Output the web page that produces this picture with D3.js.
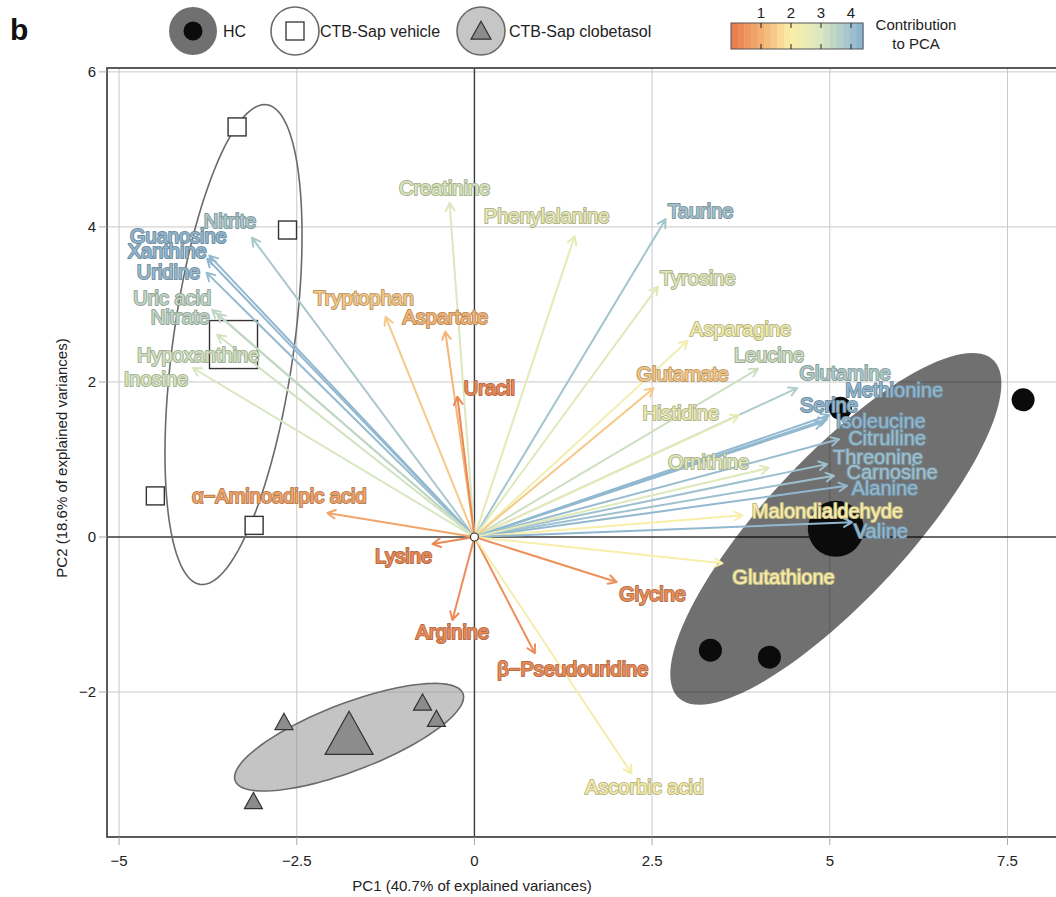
<!DOCTYPE html>
<html>
<head>
<meta charset="utf-8">
<script src="https://cdn.jsdelivr.net/npm/d3@7"></script>
<style>
  body { margin: 0; background: #fff; }
  svg { display: block; font-family: "Liberation Sans", Arial, Helvetica, sans-serif; }
</style>
</head>
<body>
<svg id="chart" width="1056" height="897"></svg>
<script>
// ---- Variable loadings (PC1, PC2) and contribution to PCA ----
const variables = [
  "Creatinine", "Phenylalanine", "Taurine", "Tyrosine", "Asparagine", "Leucine",
  "Glutamine", "Glutamate", "Histidine", "Methionine", "Serine", "Isoleucine",
  "Citrulline", "Threonine", "Carnosine", "Alanine", "Malondialdehyde", "Valine",
  "Ornithine", "Glutathione", "Nitrite", "Guanosine", "Xanthine", "Uridine",
  "Uric acid", "Nitrate", "Hypoxanthine", "Inosine", "Tryptophan", "Aspartate",
  "Uracil", "α−Aminoadipic acid", "Lysine", "Arginine", "Glycine",
  "β−Pseudouridine", "Ascorbic acid"
];
const loadingPC1 = [
  -0.35, 1.41, 2.69, 2.58, 3.00, 3.99,
  4.54, 2.52, 3.72, 4.99, 4.96, 4.90,
  5.13, 4.96, 5.06, 5.24, 3.77, 5.31,
  4.14, 3.49, -3.13, -3.73, -3.76, -3.77,
  -3.69, -3.62, -3.62, -3.96, -1.25, -0.41,
  -0.24, -2.07, -0.59, -0.31, 2.00,
  0.85, 2.21
];
const loadingPC2 = [
  4.31, 3.88, 4.10, 3.23, 2.53, 2.17,
  1.92, 1.92, 1.57, 1.57, 1.52, 1.48,
  1.26, 0.94, 0.79, 0.66, 0.28, 0.19,
  0.89, -0.34, 3.86, 3.63, 3.59, 3.41,
  2.93, 2.88, 2.61, 2.18, 2.84, 2.65,
  1.81, 0.31, -0.09, -1.07, -0.58,
  -1.50, -3.05
];
const contribution = [
  2.9, 2.6, 3.9, 2.8, 2.3, 3.2,
  3.7, 1.4, 2.5, 4.2, 4.2, 4.2,
  4.1, 4.0, 4.0, 4.2, 2.1, 4.2,
  2.8, 2.1, 3.8, 4.2, 4.2, 4.1,
  3.4, 3.4, 3.1, 3.0, 1.4, 1.1,
  0.3, 0.8, 0.3, 0.35, 0.45,
  0.4, 2.2
];

// ---- Individual scores per group ----
const hcPC1 = [5.15, 7.72, 3.32, 4.15];
const hcPC2 = [1.66, 1.77, -1.46, -1.55];
const vehiclePC1 = [-3.34, -2.63, -4.49, -3.10];
const vehiclePC2 = [5.29, 3.96, 0.53, 0.15];
const clobetasolPC1 = [-2.68, -3.11, -0.73, -0.535];
const clobetasolPC2 = [-2.40, -3.42, -2.15, -2.36];

// ---- Axis ticks ----
const xTicks = [-5, -2.5, 0, 2.5, 5, 7.5];
const yTicks = [-2, 0, 2, 4, 6];
const contribTicks = [1, 2, 3, 4];

// ---- Layout (label nudges in px from each arrow tip) ----
const labelNudge = {
  "Creatinine": [-5, -15], "Phenylalanine": [-28, -20], "Taurine": [35, -8],
  "Tyrosine": [40, -9], "Asparagine": [53, -12], "Leucine": [11, -14],
  "Glutamine": [48, -15], "Glutamate": [29, -14], "Histidine": [-58, -2],
  "Methionine": [65, -25], "Serine": [2, -14], "Isoleucine": [58, -1],
  "Citrulline": [48, -2], "Threonine": [51, -7], "Carnosine": [58, -4],
  "Alanine": [38, 2], "Malondialdehyde": [85, -4], "Valine": [29, 9],
  "Ornithine": [-60, -6], "Glutathione": [61, 13], "Nitrite": [-22, -17],
  "Guanosine": [-31, -20], "Xanthine": [-40, -8], "Uridine": [-38, -1],
  "Uric acid": [-40, -12], "Nitrate": [-37, 3], "Hypoxanthine": [-19, 20],
  "Inosine": [-37, 11], "Tryptophan": [-22, -19], "Aspartate": [0, -15],
  "Uracil": [32, -9], "α−Aminoadipic acid": [-48, -17], "Lysine": [-29, 12],
  "Arginine": [0, 12], "Glycine": [36, 12], "β−Pseudouridine": [38, 16],
  "Ascorbic acid": [13, 13]
};

const svg = d3.select("#chart");
const panel = { left: 107, top: 68, right: 1075, bottom: 837 };

const x = d3.scaleLinear().domain([-5.17, 8.45]).range([panel.left, panel.right]);
const y = d3.scaleLinear().domain([-3.87, 6.05]).range([panel.bottom, panel.top]);

// contribution colour scale
const color = d3.scaleLinear()
  .domain([0, 1, 2, 3, 4, 4.4])
  .range(["#e8784a", "#f3b072", "#fbefa8", "#d9e7c0", "#9ec0cf", "#86afd0"])
  .interpolate(d3.interpolateRgb);

// ---- Grid ----
const grid = svg.append("g");
grid.selectAll("line.gx").data(xTicks.filter(d => d !== 0)).join("line")
  .attr("x1", d => x(d)).attr("x2", d => x(d))
  .attr("y1", panel.top).attr("y2", panel.bottom)
  .attr("stroke", "#c9c9c9").attr("stroke-width", 1);
grid.selectAll("line.gy").data(yTicks.filter(d => d !== 0)).join("line")
  .attr("y1", d => y(d)).attr("y2", d => y(d))
  .attr("x1", panel.left).attr("x2", panel.right)
  .attr("stroke", "#c9c9c9").attr("stroke-width", 1);
// zero lines
grid.append("line").attr("x1", x(0)).attr("x2", x(0)).attr("y1", panel.top).attr("y2", panel.bottom)
  .attr("stroke", "#3a3a3a").attr("stroke-width", 1.4);
grid.append("line").attr("y1", y(0)).attr("y2", y(0)).attr("x1", panel.left).attr("x2", panel.right)
  .attr("stroke", "#3a3a3a").attr("stroke-width", 1.4);

// ---- Group ellipses from covariance of the scores ----
const ellipseRadius = 1.22;
function ellipsePoints(xs, ys) {
  const mx = d3.mean(xs), my = d3.mean(ys), n = xs.length;
  let sxx = 0, syy = 0, sxy = 0;
  for (let i = 0; i < n; i++) {
    const dx = xs[i] - mx, dy = ys[i] - my;
    sxx += dx * dx; syy += dy * dy; sxy += dx * dy;
  }
  sxx /= n - 1; syy /= n - 1; sxy /= n - 1;
  const tr = (sxx + syy) / 2;
  const disc = Math.sqrt(((sxx - syy) / 2) ** 2 + sxy * sxy);
  const l1 = tr + disc, l2 = Math.max(tr - disc, 0);
  const ang = 0.5 * Math.atan2(2 * sxy, sxx - syy);
  const a = ellipseRadius * Math.sqrt(l1), b = ellipseRadius * Math.sqrt(l2);
  const ux = Math.cos(ang), uy = Math.sin(ang);
  return d3.range(0, 121).map(i => {
    const t = (i / 120) * 2 * Math.PI;
    const px = mx + a * Math.cos(t) * ux - b * Math.sin(t) * uy;
    const py = my + a * Math.cos(t) * uy + b * Math.sin(t) * ux;
    return [x(px), y(py)];
  });
}
const ellLine = d3.line().curve(d3.curveLinearClosed);
const ell = svg.append("g");
ell.append("path").attr("d", ellLine(ellipsePoints(hcPC1, hcPC2)))
  .attr("fill", "#000").attr("fill-opacity", 0.56).attr("stroke", "none");
ell.append("path").attr("d", ellLine(ellipsePoints(vehiclePC1, vehiclePC2)))
  .attr("fill", "none").attr("stroke", "#6a6a6a").attr("stroke-width", 1.6);
ell.append("path").attr("d", ellLine(ellipsePoints(clobetasolPC1, clobetasolPC2)))
  .attr("fill", "#8a8a8a").attr("fill-opacity", 0.5).attr("stroke", "#6a6a6a").attr("stroke-width", 1.6);

// ---- Individuals and group means ----
const pts = svg.append("g");
function tri(cx, cy, w) {
  const h = w * 0.9;
  return `M${cx},${cy - h * 0.6}L${cx + w / 2},${cy + h * 0.4}L${cx - w / 2},${cy + h * 0.4}Z`;
}
const hcIdx = d3.range(hcPC1.length);
pts.selectAll("circle.hc").data(hcIdx).join("circle")
  .attr("cx", i => x(hcPC1[i])).attr("cy", i => y(hcPC2[i])).attr("r", 11.5).attr("fill", "#0b0b0b");
pts.append("circle").attr("cx", x(d3.mean(hcPC1))).attr("cy", y(d3.mean(hcPC2))).attr("r", 28).attr("fill", "#0b0b0b");

const vehIdx = d3.range(vehiclePC1.length);
pts.selectAll("rect.veh").data(vehIdx).join("rect")
  .attr("x", i => x(vehiclePC1[i]) - 9).attr("y", i => y(vehiclePC2[i]) - 9)
  .attr("width", 18).attr("height", 18).attr("fill", "#fff").attr("stroke", "#333").attr("stroke-width", 1.4);
pts.append("rect").attr("x", x(d3.mean(vehiclePC1)) - 24).attr("y", y(d3.mean(vehiclePC2)) - 24)
  .attr("width", 48).attr("height", 48).attr("fill", "none").attr("stroke", "#333").attr("stroke-width", 1.4);

const clobIdx = d3.range(clobetasolPC1.length);
pts.selectAll("path.clob").data(clobIdx).join("path")
  .attr("d", i => tri(x(clobetasolPC1[i]), y(clobetasolPC2[i]), 18))
  .attr("fill", "#8c8c8c").attr("stroke", "#333").attr("stroke-width", 1.2);
pts.append("path").attr("d", tri(x(d3.mean(clobetasolPC1)), y(d3.mean(clobetasolPC2)), 48))
  .attr("fill", "#8c8c8c").attr("stroke", "#333").attr("stroke-width", 1.2);

// ---- Loading arrows ----
const arrows = svg.append("g").attr("fill", "none").attr("stroke-linecap", "round");
const x0 = x(0), y0 = y(0);
variables.forEach((name, i) => {
  const tx = x(loadingPC1[i]), ty = y(loadingPC2[i]);
  const c = color(contribution[i]);
  const ang = Math.atan2(ty - y0, tx - x0);
  const len = 9, spread = 0.5;
  const h1 = [tx - len * Math.cos(ang - spread), ty - len * Math.sin(ang - spread)];
  const h2 = [tx - len * Math.cos(ang + spread), ty - len * Math.sin(ang + spread)];
  arrows.append("path")
    .attr("d", `M${x0},${y0}L${tx},${ty}M${h1[0]},${h1[1]}L${tx},${ty}L${h2[0]},${h2[1]}`)
    .attr("stroke", c).attr("stroke-width", 2).attr("stroke-linejoin", "round");
});

// ---- Variable labels (coloured text with a darker halo) ----
const labels = svg.append("g").attr("font-size", 20).attr("text-anchor", "middle");
variables.forEach((name, i) => {
  const c = color(contribution[i]);
  const [dx, dy] = labelNudge[name];
  labels.append("text")
    .attr("x", x(loadingPC1[i]) + dx).attr("y", y(loadingPC2[i]) + dy)
    .attr("dy", "0.36em")
    .attr("fill", c)
    .attr("stroke", d3.color(c).darker(0.75))
    .attr("stroke-width", 2)
    .attr("stroke-linejoin", "round")
    .attr("paint-order", "stroke")
    .text(name);
});

// origin marker
svg.append("circle").attr("cx", x0).attr("cy", y0).attr("r", 4)
  .attr("fill", "#fff").attr("stroke", "#333").attr("stroke-width", 1.2);

// ---- Frame, ticks, axis labels ----
svg.append("rect").attr("x", panel.left).attr("y", panel.top)
  .attr("width", panel.right - panel.left).attr("height", panel.bottom - panel.top)
  .attr("fill", "none").attr("stroke", "#4a4a4a").attr("stroke-width", 1.8);

const axes = svg.append("g").attr("font-size", 15).attr("fill", "#222");
xTicks.forEach(t => {
  axes.append("line").attr("x1", x(t)).attr("x2", x(t)).attr("y1", panel.bottom).attr("y2", panel.bottom + 8)
    .attr("stroke", "#aaa");
  axes.append("text").attr("x", x(t)).attr("y", 866).attr("text-anchor", "middle")
    .text(d3.format("")(t).replace("-", "−"));
});
yTicks.forEach(t => {
  axes.append("line").attr("x1", panel.left - 8).attr("x2", panel.left).attr("y1", y(t)).attr("y2", y(t))
    .attr("stroke", "#aaa");
  axes.append("text").attr("x", 96).attr("y", y(t)).attr("dy", "0.35em").attr("text-anchor", "end")
    .text(d3.format("")(t).replace("-", "−"));
});
axes.append("text").attr("x", 472).attr("y", 891).attr("text-anchor", "middle")
  .text("PC1 (40.7% of explained variances)");
axes.append("text").attr("transform", "translate(67,458) rotate(-90)").attr("text-anchor", "middle")
  .text("PC2 (18.6% of explained variances)");

// ---- Panel tag ----
svg.append("text").attr("x", 10).attr("y", 40).attr("font-size", 30).attr("font-weight", "bold")
  .attr("fill", "#111").text("b");

// ---- Group legend ----
const leg = svg.append("g").attr("font-size", 16).attr("fill", "#222");
leg.append("circle").attr("cx", 193).attr("cy", 31).attr("r", 24).attr("fill", "#707070");
leg.append("circle").attr("cx", 193).attr("cy", 31).attr("r", 9.5).attr("fill", "#0b0b0b");
leg.append("text").attr("x", 223).attr("y", 31).attr("dy", "0.36em").text("HC");

leg.append("circle").attr("cx", 295).attr("cy", 31).attr("r", 24).attr("fill", "#fff").attr("stroke", "#6a6a6a").attr("stroke-width", 1.6);
leg.append("rect").attr("x", 286).attr("y", 22).attr("width", 18).attr("height", 18).attr("fill", "#fff").attr("stroke", "#333").attr("stroke-width", 1.3);
leg.append("text").attr("x", 320).attr("y", 31).attr("dy", "0.36em").text("CTB-Sap vehicle");

leg.append("circle").attr("cx", 481).attr("cy", 31).attr("r", 24).attr("fill", "#c6c6c6").attr("stroke", "#6a6a6a").attr("stroke-width", 1.6);
leg.append("path").attr("d", tri(481, 32, 20)).attr("fill", "#8c8c8c").attr("stroke", "#333").attr("stroke-width", 1.2);
leg.append("text").attr("x", 509).attr("y", 31).attr("dy", "0.36em").text("CTB-Sap clobetasol");

// ---- Contribution colour bar ----
const cb = svg.append("g");
const cx = d3.scaleLinear().domain([0, 4.4]).range([731, 863]);
const bands = d3.range(0, 4.4, 0.22);
cb.selectAll("rect.band").data(bands).join("rect")
  .attr("x", d => cx(d)).attr("y", 23).attr("width", cx(0.22) - cx(0) + 0.5).attr("height", 26)
  .attr("fill", d => color(d + 0.11));
cb.append("rect").attr("x", 731).attr("y", 23).attr("width", 132).attr("height", 26)
  .attr("fill", "none").attr("stroke", "#555").attr("stroke-width", 1);
contribTicks.forEach(t => {
  cb.append("line").attr("x1", cx(t)).attr("x2", cx(t)).attr("y1", 23).attr("y2", 28).attr("stroke", "#222");
  cb.append("line").attr("x1", cx(t)).attr("x2", cx(t)).attr("y1", 44).attr("y2", 49).attr("stroke", "#222");
  cb.append("text").attr("x", cx(t)).attr("y", 13).attr("dy", "0.35em").attr("text-anchor", "middle")
    .attr("font-size", 15).attr("fill", "#222").text(t);
});
cb.append("text").attr("x", 916).attr("y", 25).attr("dy", "0.35em").attr("text-anchor", "middle")
  .attr("font-size", 15).attr("fill", "#222").text("Contribution");
cb.append("text").attr("x", 916).attr("y", 44).attr("dy", "0.35em").attr("text-anchor", "middle")
  .attr("font-size", 15).attr("fill", "#222").text("to PCA");
</script>
</body>
</html>
